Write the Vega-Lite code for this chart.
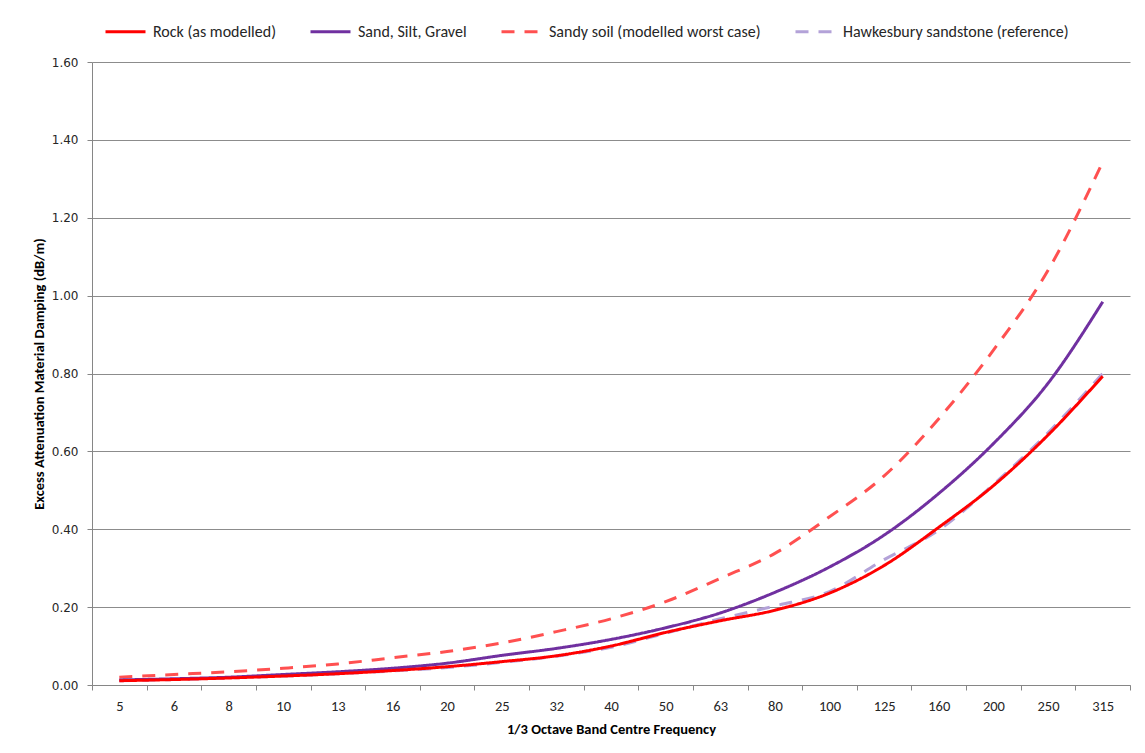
{
  "$schema": "https://vega.github.io/schema/vega-lite/v6.json",
  "width": 1038,
  "height": 623,
  "autosize": {"type": "none"},
  "padding": {"left": 92, "top": 62, "right": 15, "bottom": 68},
  "background": "white",
  "config": {
    "view": {"stroke": null},
    "font": "Carlito, Lato, sans-serif",
    "axis": {
      "domainColor": "#868686",
      "tickColor": "#868686",
      "gridColor": "#8c8c8c",
      "labelColor": "#262626",
      "titleColor": "#000000",
      "tickSize": 5
    }
  },
  "data": {
    "values": [
      {"freq": 5, "series": "Hawkesbury sandstone (reference)", "value": 0.011},
      {"freq": 6, "series": "Hawkesbury sandstone (reference)", "value": 0.014},
      {"freq": 8, "series": "Hawkesbury sandstone (reference)", "value": 0.018},
      {"freq": 10, "series": "Hawkesbury sandstone (reference)", "value": 0.023},
      {"freq": 13, "series": "Hawkesbury sandstone (reference)", "value": 0.029},
      {"freq": 16, "series": "Hawkesbury sandstone (reference)", "value": 0.036},
      {"freq": 20, "series": "Hawkesbury sandstone (reference)", "value": 0.045},
      {"freq": 25, "series": "Hawkesbury sandstone (reference)", "value": 0.058},
      {"freq": 32, "series": "Hawkesbury sandstone (reference)", "value": 0.074},
      {"freq": 40, "series": "Hawkesbury sandstone (reference)", "value": 0.097},
      {"freq": 50, "series": "Hawkesbury sandstone (reference)", "value": 0.133},
      {"freq": 63, "series": "Hawkesbury sandstone (reference)", "value": 0.170},
      {"freq": 80, "series": "Hawkesbury sandstone (reference)", "value": 0.203},
      {"freq": 100, "series": "Hawkesbury sandstone (reference)", "value": 0.240},
      {"freq": 125, "series": "Hawkesbury sandstone (reference)", "value": 0.322},
      {"freq": 160, "series": "Hawkesbury sandstone (reference)", "value": 0.398},
      {"freq": 200, "series": "Hawkesbury sandstone (reference)", "value": 0.515},
      {"freq": 250, "series": "Hawkesbury sandstone (reference)", "value": 0.648},
      {"freq": 315, "series": "Hawkesbury sandstone (reference)", "value": 0.800},
      {"freq": 5, "series": "Sandy soil (modelled worst case)", "value": 0.020},
      {"freq": 6, "series": "Sandy soil (modelled worst case)", "value": 0.027},
      {"freq": 8, "series": "Sandy soil (modelled worst case)", "value": 0.034},
      {"freq": 10, "series": "Sandy soil (modelled worst case)", "value": 0.043},
      {"freq": 13, "series": "Sandy soil (modelled worst case)", "value": 0.054},
      {"freq": 16, "series": "Sandy soil (modelled worst case)", "value": 0.070},
      {"freq": 20, "series": "Sandy soil (modelled worst case)", "value": 0.086},
      {"freq": 25, "series": "Sandy soil (modelled worst case)", "value": 0.108},
      {"freq": 32, "series": "Sandy soil (modelled worst case)", "value": 0.137},
      {"freq": 40, "series": "Sandy soil (modelled worst case)", "value": 0.170},
      {"freq": 50, "series": "Sandy soil (modelled worst case)", "value": 0.214},
      {"freq": 63, "series": "Sandy soil (modelled worst case)", "value": 0.274},
      {"freq": 80, "series": "Sandy soil (modelled worst case)", "value": 0.338},
      {"freq": 100, "series": "Sandy soil (modelled worst case)", "value": 0.432},
      {"freq": 125, "series": "Sandy soil (modelled worst case)", "value": 0.537},
      {"freq": 160, "series": "Sandy soil (modelled worst case)", "value": 0.684},
      {"freq": 200, "series": "Sandy soil (modelled worst case)", "value": 0.860},
      {"freq": 250, "series": "Sandy soil (modelled worst case)", "value": 1.065},
      {"freq": 315, "series": "Sandy soil (modelled worst case)", "value": 1.343},
      {"freq": 5, "series": "Sand, Silt, Gravel", "value": 0.013},
      {"freq": 6, "series": "Sand, Silt, Gravel", "value": 0.016},
      {"freq": 8, "series": "Sand, Silt, Gravel", "value": 0.020},
      {"freq": 10, "series": "Sand, Silt, Gravel", "value": 0.027},
      {"freq": 13, "series": "Sand, Silt, Gravel", "value": 0.034},
      {"freq": 16, "series": "Sand, Silt, Gravel", "value": 0.043},
      {"freq": 20, "series": "Sand, Silt, Gravel", "value": 0.056},
      {"freq": 25, "series": "Sand, Silt, Gravel", "value": 0.076},
      {"freq": 32, "series": "Sand, Silt, Gravel", "value": 0.094},
      {"freq": 40, "series": "Sand, Silt, Gravel", "value": 0.117},
      {"freq": 50, "series": "Sand, Silt, Gravel", "value": 0.147},
      {"freq": 63, "series": "Sand, Silt, Gravel", "value": 0.185},
      {"freq": 80, "series": "Sand, Silt, Gravel", "value": 0.238},
      {"freq": 100, "series": "Sand, Silt, Gravel", "value": 0.303},
      {"freq": 125, "series": "Sand, Silt, Gravel", "value": 0.385},
      {"freq": 160, "series": "Sand, Silt, Gravel", "value": 0.492},
      {"freq": 200, "series": "Sand, Silt, Gravel", "value": 0.620},
      {"freq": 250, "series": "Sand, Silt, Gravel", "value": 0.775},
      {"freq": 315, "series": "Sand, Silt, Gravel", "value": 0.984},
      {"freq": 5, "series": "Rock (as modelled)", "value": 0.011},
      {"freq": 6, "series": "Rock (as modelled)", "value": 0.014},
      {"freq": 8, "series": "Rock (as modelled)", "value": 0.018},
      {"freq": 10, "series": "Rock (as modelled)", "value": 0.023},
      {"freq": 13, "series": "Rock (as modelled)", "value": 0.029},
      {"freq": 16, "series": "Rock (as modelled)", "value": 0.037},
      {"freq": 20, "series": "Rock (as modelled)", "value": 0.047},
      {"freq": 25, "series": "Rock (as modelled)", "value": 0.060},
      {"freq": 32, "series": "Rock (as modelled)", "value": 0.075},
      {"freq": 40, "series": "Rock (as modelled)", "value": 0.100},
      {"freq": 50, "series": "Rock (as modelled)", "value": 0.135},
      {"freq": 63, "series": "Rock (as modelled)", "value": 0.165},
      {"freq": 80, "series": "Rock (as modelled)", "value": 0.192},
      {"freq": 100, "series": "Rock (as modelled)", "value": 0.236},
      {"freq": 125, "series": "Rock (as modelled)", "value": 0.307},
      {"freq": 160, "series": "Rock (as modelled)", "value": 0.405},
      {"freq": 200, "series": "Rock (as modelled)", "value": 0.512},
      {"freq": 250, "series": "Rock (as modelled)", "value": 0.642},
      {"freq": 315, "series": "Rock (as modelled)", "value": 0.793}
    ]
  },
  "mark": {"type": "line", "interpolate": "monotone"},
  "encoding": {
    "x": {
      "field": "freq",
      "type": "ordinal",
      "scale": {"type": "band", "paddingInner": 0, "paddingOuter": 0},
      "axis": {
        "title": "1/3 Octave Band Centre Frequency",
        "labelAngle": 0,
        "tickBand": "extent",
        "grid": false,
        "labelFontSize": 14.5,
        "labelPadding": 9,
        "titleFontSize": 14.5,
        "titleFontWeight": "bold",
        "titlePadding": 10
      }
    },
    "y": {
      "field": "value",
      "type": "quantitative",
      "scale": {"domain": [0, 1.6], "nice": false},
      "axis": {
        "title": "Excess Attenuation Material Damping (dB/m)",
        "values": [0, 0.2, 0.4, 0.6, 0.8, 1.0, 1.2, 1.4, 1.6],
        "format": ".2f",
        "grid": true,
        "labelFont": "DejaVu Sans",
        "labelFontSize": 12,
        "labelPadding": 9,
        "titleFontSize": 14.5,
        "titleFontWeight": "bold",
        "titlePadding": 5
      }
    },
    "color": {
      "field": "series",
      "type": "nominal",
      "scale": {
        "domain": ["Rock (as modelled)", "Sand, Silt, Gravel", "Sandy soil (modelled worst case)", "Hawkesbury sandstone (reference)"],
        "range": ["#FF0000", "#7030A0", "#FF5050", "#B3A2D8"]
      },
      "legend": {
        "title": null,
        "orient": "none",
        "direction": "horizontal",
        "legendX": 12,
        "legendY": -52,
        "symbolType": "stroke",
        "symbolSize": 1600,
        "symbolStrokeWidth": 4,
        "labelFontSize": 16,
        "labelColor": "#262626",
        "labelOffset": 6,
        "columnPadding": 28,
        "labelLimit": 400
      }
    },
    "strokeDash": {
      "field": "series",
      "type": "nominal",
      "scale": {
        "domain": ["Rock (as modelled)", "Sand, Silt, Gravel", "Sandy soil (modelled worst case)", "Hawkesbury sandstone (reference)"],
        "range": [[1, 0], [1, 0], [13, 10], [13, 10]]
      }
    },
    "strokeWidth": {
      "field": "series",
      "type": "nominal",
      "scale": {
        "domain": ["Rock (as modelled)", "Sand, Silt, Gravel", "Sandy soil (modelled worst case)", "Hawkesbury sandstone (reference)"],
        "range": [3, 3, 3.5, 4]
      },
      "legend": null
    }
  }
}
